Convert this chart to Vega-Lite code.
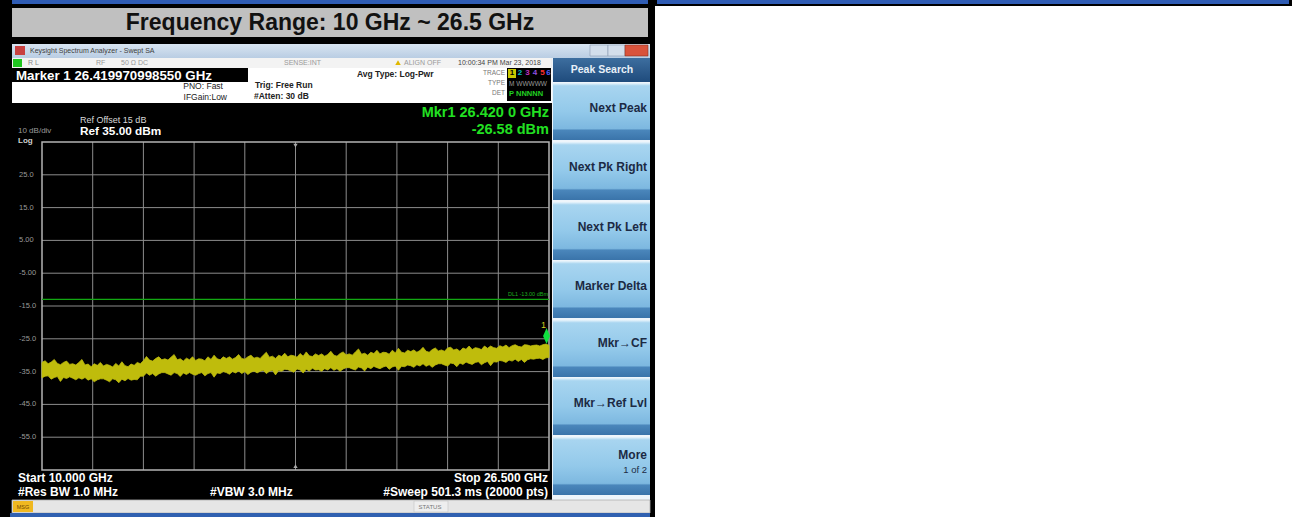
{
"$schema": "https://vega.github.io/schema/vega-lite/v6.json",
"width": 507, "height": 328,
"autosize": {"type": "none"},
"padding": {"left": 42, "top": 142, "right": 743, "bottom": 47},
"background": "white",
"config": {"view": {"stroke": null}, "font": "Liberation Sans"},
"data": {"values": [{}]},
"datasets": {
"trace": [
{"f":10.0,"hi":-32.2,"lo":-36.9},{"f":10.1,"hi":-31.7,"lo":-36.4},{"f":10.2,"hi":-32.6,"lo":-36.3},{"f":10.3,"hi":-32.1,"lo":-37.3},{"f":10.4,"hi":-31.3,"lo":-36.8},{"f":10.5,"hi":-32.5,"lo":-36.5},{"f":10.6,"hi":-32.9,"lo":-38.0},{"f":10.7,"hi":-32.2,"lo":-36.8},{"f":10.8,"hi":-31.8,"lo":-37.1},{"f":10.9,"hi":-32.8,"lo":-36.6},
{"f":11.0,"hi":-32.6,"lo":-37.0},{"f":11.1,"hi":-33.0,"lo":-37.5},{"f":11.2,"hi":-32.2,"lo":-36.9},{"f":11.3,"hi":-31.3,"lo":-37.3},{"f":11.4,"hi":-33.0,"lo":-36.8},{"f":11.5,"hi":-32.7,"lo":-37.6},{"f":11.6,"hi":-33.5,"lo":-37.2},{"f":11.7,"hi":-32.6,"lo":-38.1},{"f":11.8,"hi":-33.1,"lo":-37.5},{"f":11.9,"hi":-32.2,"lo":-37.2},
{"f":12.0,"hi":-33.3,"lo":-37.2},{"f":12.1,"hi":-32.8,"lo":-37.6},{"f":12.2,"hi":-33.1,"lo":-38.1},{"f":12.3,"hi":-33.6,"lo":-37.2},{"f":12.4,"hi":-32.5,"lo":-37.5},{"f":12.5,"hi":-33.3,"lo":-38.4},{"f":12.6,"hi":-32.0,"lo":-37.3},{"f":12.7,"hi":-33.2,"lo":-37.8},{"f":12.8,"hi":-33.5,"lo":-37.1},{"f":12.9,"hi":-32.7,"lo":-37.6},
{"f":13.0,"hi":-33.1,"lo":-37.4},{"f":13.1,"hi":-32.2,"lo":-37.5},{"f":13.2,"hi":-32.6,"lo":-36.4},{"f":13.3,"hi":-31.7,"lo":-36.4},{"f":13.4,"hi":-30.4,"lo":-35.4},{"f":13.5,"hi":-31.5,"lo":-36.1},{"f":13.6,"hi":-31.8,"lo":-35.6},{"f":13.7,"hi":-31.0,"lo":-36.4},{"f":13.8,"hi":-30.5,"lo":-35.7},{"f":13.9,"hi":-31.4,"lo":-35.3},
{"f":14.0,"hi":-31.1,"lo":-35.3},{"f":14.1,"hi":-31.5,"lo":-35.7},{"f":14.2,"hi":-30.6,"lo":-36.1},{"f":14.3,"hi":-29.8,"lo":-35.3},{"f":14.4,"hi":-31.4,"lo":-35.6},{"f":14.5,"hi":-31.1,"lo":-36.5},{"f":14.6,"hi":-31.8,"lo":-35.4},{"f":14.7,"hi":-30.9,"lo":-35.9},{"f":14.8,"hi":-31.4,"lo":-35.3},{"f":14.9,"hi":-30.5,"lo":-35.8},
{"f":15.0,"hi":-31.6,"lo":-36.1},{"f":15.1,"hi":-31.1,"lo":-35.6},{"f":15.2,"hi":-31.2,"lo":-35.3},{"f":15.3,"hi":-31.7,"lo":-36.3},{"f":15.4,"hi":-30.5,"lo":-35.6},{"f":15.5,"hi":-31.3,"lo":-35.3},{"f":15.6,"hi":-30.0,"lo":-36.7},{"f":15.7,"hi":-31.1,"lo":-35.4},{"f":15.8,"hi":-31.4,"lo":-35.6},{"f":15.9,"hi":-30.5,"lo":-35.0},
{"f":16.0,"hi":-31.0,"lo":-35.3},{"f":16.1,"hi":-30.5,"lo":-35.8},{"f":16.2,"hi":-31.2,"lo":-35.0},{"f":16.3,"hi":-30.7,"lo":-35.4},{"f":16.4,"hi":-29.8,"lo":-34.8},{"f":16.5,"hi":-31.0,"lo":-35.6},{"f":16.6,"hi":-31.2,"lo":-35.0},{"f":16.7,"hi":-30.5,"lo":-35.9},{"f":16.8,"hi":-30.0,"lo":-35.2},{"f":16.9,"hi":-30.9,"lo":-34.8},
{"f":17.0,"hi":-30.6,"lo":-35.4},{"f":17.1,"hi":-31.0,"lo":-34.9},{"f":17.2,"hi":-30.0,"lo":-34.6},{"f":17.3,"hi":-29.1,"lo":-35.6},{"f":17.4,"hi":-30.6,"lo":-34.9},{"f":17.5,"hi":-30.3,"lo":-34.6},{"f":17.6,"hi":-31.0,"lo":-36.0},{"f":17.7,"hi":-30.0,"lo":-34.7},{"f":17.8,"hi":-30.4,"lo":-34.9},{"f":17.9,"hi":-29.4,"lo":-34.3},
{"f":18.0,"hi":-30.5,"lo":-34.4},{"f":18.1,"hi":-30.0,"lo":-34.8},{"f":18.2,"hi":-30.2,"lo":-35.2},{"f":18.3,"hi":-30.6,"lo":-34.2},{"f":18.4,"hi":-29.5,"lo":-34.5},{"f":18.5,"hi":-30.3,"lo":-35.4},{"f":18.6,"hi":-29.0,"lo":-34.3},{"f":18.7,"hi":-30.2,"lo":-34.8},{"f":18.8,"hi":-30.4,"lo":-34.0},{"f":18.9,"hi":-29.6,"lo":-34.5},
{"f":19.0,"hi":-30.1,"lo":-34.4},{"f":19.1,"hi":-29.6,"lo":-34.9},{"f":19.2,"hi":-30.3,"lo":-34.1},{"f":19.3,"hi":-29.8,"lo":-34.5},{"f":19.4,"hi":-28.8,"lo":-33.8},{"f":19.5,"hi":-30.0,"lo":-34.6},{"f":19.6,"hi":-30.3,"lo":-34.1},{"f":19.7,"hi":-29.5,"lo":-34.9},{"f":19.8,"hi":-29.0,"lo":-34.2},{"f":19.9,"hi":-29.9,"lo":-33.8},
{"f":20.0,"hi":-29.6,"lo":-33.8},{"f":20.1,"hi":-30.0,"lo":-34.2},{"f":20.2,"hi":-29.0,"lo":-34.5},{"f":20.3,"hi":-28.1,"lo":-33.6},{"f":20.4,"hi":-29.7,"lo":-33.9},{"f":20.5,"hi":-29.4,"lo":-34.8},{"f":20.6,"hi":-30.0,"lo":-33.6},{"f":20.7,"hi":-29.1,"lo":-34.1},{"f":20.8,"hi":-29.5,"lo":-33.4},{"f":20.9,"hi":-28.5,"lo":-33.8},
{"f":21.0,"hi":-29.6,"lo":-34.1},{"f":21.1,"hi":-29.1,"lo":-33.6},{"f":21.2,"hi":-29.2,"lo":-33.3},{"f":21.3,"hi":-29.7,"lo":-34.3},{"f":21.4,"hi":-28.5,"lo":-33.6},{"f":21.5,"hi":-29.3,"lo":-33.3},{"f":21.6,"hi":-27.9,"lo":-34.6},{"f":21.7,"hi":-29.1,"lo":-33.4},{"f":21.8,"hi":-29.3,"lo":-33.5},{"f":21.9,"hi":-28.5,"lo":-33.0},
{"f":22.0,"hi":-28.9,"lo":-33.2},{"f":22.1,"hi":-28.4,"lo":-33.7},{"f":22.2,"hi":-29.1,"lo":-32.9},{"f":22.3,"hi":-28.6,"lo":-33.3},{"f":22.4,"hi":-27.6,"lo":-32.6},{"f":22.5,"hi":-28.8,"lo":-33.4},{"f":22.6,"hi":-29.1,"lo":-32.9},{"f":22.7,"hi":-28.3,"lo":-33.7},{"f":22.8,"hi":-27.8,"lo":-33.0},{"f":22.9,"hi":-28.7,"lo":-32.6},
{"f":23.0,"hi":-28.4,"lo":-32.6},{"f":23.1,"hi":-28.8,"lo":-33.0},{"f":23.2,"hi":-27.8,"lo":-33.3},{"f":23.3,"hi":-27.6,"lo":-32.4},{"f":23.4,"hi":-28.4,"lo":-32.6},{"f":23.5,"hi":-28.1,"lo":-33.5},{"f":23.6,"hi":-28.8,"lo":-32.4},{"f":23.7,"hi":-27.8,"lo":-32.8},{"f":23.8,"hi":-28.2,"lo":-32.1},{"f":23.9,"hi":-27.2,"lo":-32.5},
{"f":24.0,"hi":-28.3,"lo":-32.8},{"f":24.1,"hi":-27.7,"lo":-32.2},{"f":24.2,"hi":-27.9,"lo":-32.0},{"f":24.3,"hi":-28.3,"lo":-32.9},{"f":24.4,"hi":-27.2,"lo":-32.3},{"f":24.5,"hi":-27.9,"lo":-31.9},{"f":24.6,"hi":-27.2,"lo":-33.2},{"f":24.7,"hi":-27.7,"lo":-32.0},{"f":24.8,"hi":-27.9,"lo":-32.1},{"f":24.9,"hi":-27.1,"lo":-31.6},
{"f":25.0,"hi":-27.5,"lo":-31.8},{"f":25.1,"hi":-26.9,"lo":-32.2},{"f":25.2,"hi":-27.7,"lo":-31.5},{"f":25.3,"hi":-27.1,"lo":-31.8},{"f":25.4,"hi":-26.8,"lo":-31.2},{"f":25.5,"hi":-27.3,"lo":-31.9},{"f":25.6,"hi":-27.5,"lo":-31.3},{"f":25.7,"hi":-26.8,"lo":-32.2},{"f":25.8,"hi":-26.9,"lo":-31.4},{"f":25.9,"hi":-27.2,"lo":-31.1},
{"f":26.0,"hi":-27.0,"lo":-31.2},{"f":26.1,"hi":-26.9,"lo":-31.0},{"f":26.2,"hi":-27.2,"lo":-30.9},{"f":26.3,"hi":-26.8,"lo":-31.3},{"f":26.4,"hi":-26.6,"lo":-30.8},{"f":26.5,"hi":-27.0,"lo":-30.7}
],
"vgrid": [{"f":11.65},{"f":13.3},{"f":14.95},{"f":16.6},{"f":18.25},{"f":19.9},{"f":21.55},{"f":23.2},{"f":24.85}],
"hgrid": [{"d":25,"lab":"25.0"},{"d":15,"lab":"15.0"},{"d":5,"lab":"5.00"},{"d":-5,"lab":"-5.00"},{"d":-15,"lab":"-15.0"},{"d":-25,"lab":"-25.0"},{"d":-35,"lab":"-35.0"},{"d":-45,"lab":"-45.0"},{"d":-55,"lab":"-55.0"}]
},
"layer": [
{"mark": {"type": "rect", "fill": "#000000"}, "encoding": {"x": {"datum": 8.633, "type": "quantitative", "axis": null}, "x2": {"datum": 29.95}, "y": {"datum": 78.29, "type": "quantitative", "axis": null}, "y2": {"datum": -79.33}}},
{"mark": {"type": "rect", "fill": "#2f5cb4"}, "encoding": {"x": {"datum": 9.024, "type": "quantitative", "axis": null}, "x2": {"datum": 29.722}, "y": {"datum": 78.29, "type": "quantitative", "axis": null}, "y2": {"datum": 77.07}}},
{"mark": {"type": "rect", "fill": "#000000"}, "encoding": {"x": {"datum": 29.95, "type": "quantitative", "axis": null}, "x2": {"datum": 50.68}, "y": {"datum": 78.29, "type": "quantitative", "axis": null}, "y2": {"datum": 76.46}}},
{"mark": {"type": "rect", "fill": "#2f5cb4"}, "encoding": {"x": {"datum": 30.015, "type": "quantitative", "axis": null}, "x2": {"datum": 50.583}, "y": {"datum": 78.29, "type": "quantitative", "axis": null}, "y2": {"datum": 77.07}}},
{"mark": {"type": "rect", "fill": "#c0c0c0"}, "encoding": {"x": {"datum": 9.024, "type": "quantitative", "axis": null}, "x2": {"datum": 29.722}, "y": {"datum": 75.85, "type": "quantitative", "axis": null}, "y2": {"datum": 67.01}}},
{"mark": {"type": "text", "align": "center", "baseline": "middle", "font": "Liberation Sans", "fontWeight": "bold", "fontSize": 23, "color": "#111111", "text": "Frequency Range: 10 GHz ~ 26.5 GHz"}, "encoding": {"x": {"datum": 19.373, "type": "quantitative", "axis": null}, "y": {"datum": 71.28, "type": "quantitative", "axis": null}}},
{"mark": {"type": "rect", "fill": {"gradient": "linear", "x1": 0, "y1": 0, "x2": 0, "y2": 1, "stops": [{"offset": 0, "color": "#d8e4f1"}, {"offset": 1, "color": "#b9cde3"}]}}, "encoding": {"x": {"datum": 9.024, "type": "quantitative", "axis": null}, "x2": {"datum": 29.787}, "y": {"datum": 64.88, "type": "quantitative", "axis": null}, "y2": {"datum": 60.61}}},
{"mark": {"type": "rect", "fill": "#c84040"}, "encoding": {"x": {"datum": 9.121, "type": "quantitative", "axis": null}, "x2": {"datum": 9.447}, "y": {"datum": 64.27, "type": "quantitative", "axis": null}, "y2": {"datum": 61.52}}},
{"mark": {"type": "text", "align": "left", "baseline": "middle", "fontSize": 7, "color": "#404040", "text": "Keysight Spectrum Analyzer - Swept SA"}, "encoding": {"x": {"datum": 9.609, "type": "quantitative", "axis": null}, "y": {"datum": 62.74, "type": "quantitative", "axis": null}}},
{"mark": {"type": "rect", "fill": "#d3deeb", "stroke": "#8a9bb0", "strokeWidth": 0.6}, "encoding": {"x": {"datum": 27.834, "type": "quantitative", "axis": null}, "x2": {"datum": 28.42}, "y": {"datum": 64.57, "type": "quantitative", "axis": null}, "y2": {"datum": 61.22}}},
{"mark": {"type": "rect", "fill": "#d3deeb", "stroke": "#8a9bb0", "strokeWidth": 0.6}, "encoding": {"x": {"datum": 28.42, "type": "quantitative", "axis": null}, "x2": {"datum": 28.973}, "y": {"datum": 64.57, "type": "quantitative", "axis": null}, "y2": {"datum": 61.22}}},
{"mark": {"type": "rect", "fill": "#d9533c", "stroke": "#8a3020", "strokeWidth": 0.6}, "encoding": {"x": {"datum": 28.973, "type": "quantitative", "axis": null}, "x2": {"datum": 29.722}, "y": {"datum": 64.57, "type": "quantitative", "axis": null}, "y2": {"datum": 61.22}}},
{"mark": {"type": "rect", "fill": "#f3f3f3"}, "encoding": {"x": {"datum": 9.024, "type": "quantitative", "axis": null}, "x2": {"datum": 26.597}, "y": {"datum": 60.61, "type": "quantitative", "axis": null}, "y2": {"datum": 57.56}}},
{"mark": {"type": "rect", "fill": "#1fc51f"}, "encoding": {"x": {"datum": 9.056, "type": "quantitative", "axis": null}, "x2": {"datum": 9.349}, "y": {"datum": 60.3, "type": "quantitative", "axis": null}, "y2": {"datum": 57.87}}},
{"mark": {"type": "text", "align": "left", "baseline": "middle", "fontSize": 7, "color": "#8a8a8a", "text": "R L"}, "encoding": {"x": {"datum": 9.544, "type": "quantitative", "axis": null}, "y": {"datum": 59.09, "type": "quantitative", "axis": null}}},
{"mark": {"type": "text", "align": "left", "baseline": "middle", "fontSize": 7, "color": "#9a9a9a", "text": "RF"}, "encoding": {"x": {"datum": 11.757, "type": "quantitative", "axis": null}, "y": {"datum": 59.09, "type": "quantitative", "axis": null}}},
{"mark": {"type": "text", "align": "left", "baseline": "middle", "fontSize": 7, "color": "#9a9a9a", "text": "50 Ω    DC"}, "encoding": {"x": {"datum": 12.571, "type": "quantitative", "axis": null}, "y": {"datum": 59.09, "type": "quantitative", "axis": null}}},
{"mark": {"type": "text", "align": "left", "baseline": "middle", "fontSize": 7, "color": "#9a9a9a", "text": "SENSE:INT"}, "encoding": {"x": {"datum": 17.876, "type": "quantitative", "axis": null}, "y": {"datum": 59.09, "type": "quantitative", "axis": null}}},
{"mark": {"type": "point", "shape": "triangle-up", "filled": true, "size": 30, "color": "#e0b800", "opacity": 1}, "encoding": {"x": {"datum": 21.586, "type": "quantitative", "axis": null}, "y": {"datum": 59.2, "type": "quantitative", "axis": null}}},
{"mark": {"type": "text", "align": "left", "baseline": "middle", "fontSize": 7, "color": "#9a9a9a", "text": "ALIGN OFF"}, "encoding": {"x": {"datum": 21.781, "type": "quantitative", "axis": null}, "y": {"datum": 59.09, "type": "quantitative", "axis": null}}},
{"mark": {"type": "text", "align": "left", "baseline": "middle", "fontSize": 7, "color": "#444444", "text": "10:00:34 PM Mar 23, 2018"}, "encoding": {"x": {"datum": 23.539, "type": "quantitative", "axis": null}, "y": {"datum": 59.09, "type": "quantitative", "axis": null}}},
{"mark": {"type": "rect", "fill": "#ffffff"}, "encoding": {"x": {"datum": 9.024, "type": "quantitative", "axis": null}, "x2": {"datum": 26.597}, "y": {"datum": 57.56, "type": "quantitative", "axis": null}, "y2": {"datum": 46.89}}},
{"mark": {"type": "rect", "fill": "#000000"}, "encoding": {"x": {"datum": 9.024, "type": "quantitative", "axis": null}, "x2": {"datum": 16.704}, "y": {"datum": 57.56, "type": "quantitative", "axis": null}, "y2": {"datum": 53.29}}},
{"mark": {"type": "text", "align": "left", "baseline": "middle", "fontSize": 13.3, "fontWeight": "bold", "color": "#ffffff", "text": "Marker 1 26.419970998550 GHz"}, "encoding": {"x": {"datum": 9.154, "type": "quantitative", "axis": null}, "y": {"datum": 55.27, "type": "quantitative", "axis": null}}},
{"mark": {"type": "text", "align": "right", "baseline": "middle", "fontSize": 8.5, "color": "#222222", "text": "PNO: Fast"}, "encoding": {"x": {"datum": 15.89, "type": "quantitative", "axis": null}, "y": {"datum": 52.07, "type": "quantitative", "axis": null}}},
{"mark": {"type": "text", "align": "right", "baseline": "middle", "fontSize": 8.5, "color": "#222222", "text": "IFGain:Low"}, "encoding": {"x": {"datum": 16.021, "type": "quantitative", "axis": null}, "y": {"datum": 48.72, "type": "quantitative", "axis": null}}},
{"mark": {"type": "text", "align": "left", "baseline": "middle", "fontSize": 8.5, "fontWeight": "bold", "color": "#222222", "text": "Trig: Free Run"}, "encoding": {"x": {"datum": 16.932, "type": "quantitative", "axis": null}, "y": {"datum": 52.38, "type": "quantitative", "axis": null}}},
{"mark": {"type": "text", "align": "left", "baseline": "middle", "fontSize": 8.5, "fontWeight": "bold", "color": "#222222", "text": "#Atten: 30 dB"}, "encoding": {"x": {"datum": 16.899, "type": "quantitative", "axis": null}, "y": {"datum": 49.02, "type": "quantitative", "axis": null}}},
{"mark": {"type": "text", "align": "left", "baseline": "middle", "fontSize": 8.5, "fontWeight": "bold", "color": "#222222", "text": "Avg Type: Log-Pwr"}, "encoding": {"x": {"datum": 20.251, "type": "quantitative", "axis": null}, "y": {"datum": 55.73, "type": "quantitative", "axis": null}}},
{"mark": {"type": "text", "align": "right", "baseline": "middle", "fontSize": 6.5, "color": "#777777", "text": "TRACE"}, "encoding": {"x": {"datum": 25.068, "type": "quantitative", "axis": null}, "y": {"datum": 56.04, "type": "quantitative", "axis": null}}},
{"mark": {"type": "text", "align": "right", "baseline": "middle", "fontSize": 6.5, "color": "#777777", "text": "TYPE"}, "encoding": {"x": {"datum": 25.068, "type": "quantitative", "axis": null}, "y": {"datum": 52.99, "type": "quantitative", "axis": null}}},
{"mark": {"type": "text", "align": "right", "baseline": "middle", "fontSize": 6.5, "color": "#777777", "text": "DET"}, "encoding": {"x": {"datum": 25.068, "type": "quantitative", "axis": null}, "y": {"datum": 49.94, "type": "quantitative", "axis": null}}},
{"mark": {"type": "rect", "fill": "#000000"}, "encoding": {"x": {"datum": 25.133, "type": "quantitative", "axis": null}, "x2": {"datum": 26.565}, "y": {"datum": 57.56, "type": "quantitative", "axis": null}, "y2": {"datum": 47.5}}},
{"mark": {"type": "rect", "fill": "#c8c800"}, "encoding": {"x": {"datum": 25.166, "type": "quantitative", "axis": null}, "x2": {"datum": 25.426}, "y": {"datum": 57.26, "type": "quantitative", "axis": null}, "y2": {"datum": 54.51}}},
{"mark": {"type": "text", "align": "center", "baseline": "middle", "fontSize": 8, "fontWeight": "bold", "color": "#000000", "text": "1"}, "encoding": {"x": {"datum": 25.296, "type": "quantitative", "axis": null}, "y": {"datum": 55.9, "type": "quantitative", "axis": null}}},
{"mark": {"type": "text", "align": "center", "baseline": "middle", "fontSize": 8, "fontWeight": "bold", "color": "#00c0c0", "text": "2"}, "encoding": {"x": {"datum": 25.556, "type": "quantitative", "axis": null}, "y": {"datum": 55.9, "type": "quantitative", "axis": null}}},
{"mark": {"type": "text", "align": "center", "baseline": "middle", "fontSize": 8, "fontWeight": "bold", "color": "#c030c0", "text": "3"}, "encoding": {"x": {"datum": 25.8, "type": "quantitative", "axis": null}, "y": {"datum": 55.9, "type": "quantitative", "axis": null}}},
{"mark": {"type": "text", "align": "center", "baseline": "middle", "fontSize": 8, "fontWeight": "bold", "color": "#9050e0", "text": "4"}, "encoding": {"x": {"datum": 26.044, "type": "quantitative", "axis": null}, "y": {"datum": 55.9, "type": "quantitative", "axis": null}}},
{"mark": {"type": "text", "align": "center", "baseline": "middle", "fontSize": 8, "fontWeight": "bold", "color": "#ff3030", "text": "5"}, "encoding": {"x": {"datum": 26.288, "type": "quantitative", "axis": null}, "y": {"datum": 55.9, "type": "quantitative", "axis": null}}},
{"mark": {"type": "text", "align": "center", "baseline": "middle", "fontSize": 8, "fontWeight": "bold", "color": "#5060ff", "text": "6"}, "encoding": {"x": {"datum": 26.484, "type": "quantitative", "axis": null}, "y": {"datum": 55.9, "type": "quantitative", "axis": null}}},
{"mark": {"type": "text", "align": "left", "baseline": "middle", "fontSize": 6.5, "color": "#999999", "text": "M WWWWW"}, "encoding": {"x": {"datum": 25.2, "type": "quantitative", "axis": null}, "y": {"datum": 52.68, "type": "quantitative", "axis": null}}},
{"mark": {"type": "text", "align": "left", "baseline": "middle", "fontSize": 7.5, "fontWeight": "bold", "color": "#20d020", "text": "P NNNNN"}, "encoding": {"x": {"datum": 25.2, "type": "quantitative", "axis": null}, "y": {"datum": 49.63, "type": "quantitative", "axis": null}}},
{"mark": {"type": "rect", "fill": "#eef5fb"}, "encoding": {"x": {"datum": 26.597, "type": "quantitative", "axis": null}, "x2": {"datum": 29.787}, "y": {"datum": 60.61, "type": "quantitative", "axis": null}, "y2": {"datum": -74.15}}},
{"mark": {"type": "rect", "fill": {"gradient": "linear", "x1": 0, "y1": 0, "x2": 0, "y2": 1, "stops": [{"offset": 0, "color": "#3d6e9f"}, {"offset": 1, "color": "#1f4b7c"}]}}, "encoding": {"x": {"datum": 26.63, "type": "quantitative", "axis": null}, "x2": {"datum": 29.787}, "y": {"datum": 60.61, "type": "quantitative", "axis": null}, "y2": {"datum": 53.29}}},
{"mark": {"type": "text", "align": "center", "baseline": "middle", "fontSize": 10.5, "fontWeight": "bold", "color": "#e8f0f8", "text": "Peak Search"}, "encoding": {"x": {"datum": 28.225, "type": "quantitative", "axis": null}, "y": {"datum": 56.95, "type": "quantitative", "axis": null}}},
{"mark": {"type": "rect", "fill": {"gradient": "linear", "x1": 0, "y1": 0, "x2": 0, "y2": 1, "stops": [{"offset": 0, "color": "#eaf5fc"}, {"offset": 0.05, "color": "#a8d5f0"}, {"offset": 0.5, "color": "#93c9ea"}, {"offset": 0.8, "color": "#7db8e0"}, {"offset": 0.83, "color": "#4a86bb"}, {"offset": 1, "color": "#3a74aa"}]}}, "encoding": {"x": {"datum": 26.63, "type": "quantitative", "axis": null}, "x2": {"datum": 29.787}, "y": {"datum": 52.99, "type": "quantitative", "axis": null}, "y2": {"datum": 35.61}}},
{"mark": {"type": "rect", "fill": {"gradient": "linear", "x1": 0, "y1": 0, "x2": 0, "y2": 1, "stops": [{"offset": 0, "color": "#eaf5fc"}, {"offset": 0.05, "color": "#a8d5f0"}, {"offset": 0.5, "color": "#93c9ea"}, {"offset": 0.8, "color": "#7db8e0"}, {"offset": 0.83, "color": "#4a86bb"}, {"offset": 1, "color": "#3a74aa"}]}}, "encoding": {"x": {"datum": 26.63, "type": "quantitative", "axis": null}, "x2": {"datum": 29.787}, "y": {"datum": 35.0, "type": "quantitative", "axis": null}, "y2": {"datum": 17.32}}},
{"mark": {"type": "rect", "fill": {"gradient": "linear", "x1": 0, "y1": 0, "x2": 0, "y2": 1, "stops": [{"offset": 0, "color": "#eaf5fc"}, {"offset": 0.05, "color": "#a8d5f0"}, {"offset": 0.5, "color": "#93c9ea"}, {"offset": 0.8, "color": "#7db8e0"}, {"offset": 0.83, "color": "#4a86bb"}, {"offset": 1, "color": "#3a74aa"}]}}, "encoding": {"x": {"datum": 26.63, "type": "quantitative", "axis": null}, "x2": {"datum": 29.787}, "y": {"datum": 16.71, "type": "quantitative", "axis": null}, "y2": {"datum": -0.98}}},
{"mark": {"type": "rect", "fill": {"gradient": "linear", "x1": 0, "y1": 0, "x2": 0, "y2": 1, "stops": [{"offset": 0, "color": "#eaf5fc"}, {"offset": 0.05, "color": "#a8d5f0"}, {"offset": 0.5, "color": "#93c9ea"}, {"offset": 0.8, "color": "#7db8e0"}, {"offset": 0.83, "color": "#4a86bb"}, {"offset": 1, "color": "#3a74aa"}]}}, "encoding": {"x": {"datum": 26.63, "type": "quantitative", "axis": null}, "x2": {"datum": 29.787}, "y": {"datum": -1.28, "type": "quantitative", "axis": null}, "y2": {"datum": -18.66}}},
{"mark": {"type": "rect", "fill": {"gradient": "linear", "x1": 0, "y1": 0, "x2": 0, "y2": 1, "stops": [{"offset": 0, "color": "#eaf5fc"}, {"offset": 0.05, "color": "#a8d5f0"}, {"offset": 0.5, "color": "#93c9ea"}, {"offset": 0.8, "color": "#7db8e0"}, {"offset": 0.83, "color": "#4a86bb"}, {"offset": 1, "color": "#3a74aa"}]}}, "encoding": {"x": {"datum": 26.63, "type": "quantitative", "axis": null}, "x2": {"datum": 29.787}, "y": {"datum": -19.27, "type": "quantitative", "axis": null}, "y2": {"datum": -36.65}}},
{"mark": {"type": "rect", "fill": {"gradient": "linear", "x1": 0, "y1": 0, "x2": 0, "y2": 1, "stops": [{"offset": 0, "color": "#eaf5fc"}, {"offset": 0.05, "color": "#a8d5f0"}, {"offset": 0.5, "color": "#93c9ea"}, {"offset": 0.8, "color": "#7db8e0"}, {"offset": 0.83, "color": "#4a86bb"}, {"offset": 1, "color": "#3a74aa"}]}}, "encoding": {"x": {"datum": 26.63, "type": "quantitative", "axis": null}, "x2": {"datum": 29.787}, "y": {"datum": -36.95, "type": "quantitative", "axis": null}, "y2": {"datum": -54.33}}},
{"mark": {"type": "rect", "fill": {"gradient": "linear", "x1": 0, "y1": 0, "x2": 0, "y2": 1, "stops": [{"offset": 0, "color": "#eaf5fc"}, {"offset": 0.05, "color": "#a8d5f0"}, {"offset": 0.5, "color": "#93c9ea"}, {"offset": 0.8, "color": "#7db8e0"}, {"offset": 0.83, "color": "#4a86bb"}, {"offset": 1, "color": "#3a74aa"}]}}, "encoding": {"x": {"datum": 26.63, "type": "quantitative", "axis": null}, "x2": {"datum": 29.787}, "y": {"datum": -54.94, "type": "quantitative", "axis": null}, "y2": {"datum": -72.62}}},
{"mark": {"type": "text", "align": "right", "baseline": "middle", "fontSize": 12, "fontWeight": "bold", "color": "#1c2a44", "text": "Next Peak"}, "encoding": {"x": {"datum": 29.689, "type": "quantitative", "axis": null}, "y": {"datum": 45.37, "type": "quantitative", "axis": null}}},
{"mark": {"type": "text", "align": "right", "baseline": "middle", "fontSize": 12, "fontWeight": "bold", "color": "#1c2a44", "text": "Next Pk Right"}, "encoding": {"x": {"datum": 29.689, "type": "quantitative", "axis": null}, "y": {"datum": 27.38, "type": "quantitative", "axis": null}}},
{"mark": {"type": "text", "align": "right", "baseline": "middle", "fontSize": 12, "fontWeight": "bold", "color": "#1c2a44", "text": "Next Pk Left"}, "encoding": {"x": {"datum": 29.689, "type": "quantitative", "axis": null}, "y": {"datum": 9.09, "type": "quantitative", "axis": null}}},
{"mark": {"type": "text", "align": "right", "baseline": "middle", "fontSize": 12, "fontWeight": "bold", "color": "#1c2a44", "text": "Marker Delta"}, "encoding": {"x": {"datum": 29.689, "type": "quantitative", "axis": null}, "y": {"datum": -8.9, "type": "quantitative", "axis": null}}},
{"mark": {"type": "text", "align": "right", "baseline": "middle", "fontSize": 12, "fontWeight": "bold", "color": "#1c2a44", "text": "Mkr→CF"}, "encoding": {"x": {"datum": 29.689, "type": "quantitative", "axis": null}, "y": {"datum": -26.28, "type": "quantitative", "axis": null}}},
{"mark": {"type": "text", "align": "right", "baseline": "middle", "fontSize": 12, "fontWeight": "bold", "color": "#1c2a44", "text": "Mkr→Ref Lvl"}, "encoding": {"x": {"datum": 29.689, "type": "quantitative", "axis": null}, "y": {"datum": -44.57, "type": "quantitative", "axis": null}}},
{"mark": {"type": "text", "align": "right", "baseline": "middle", "fontSize": 12, "fontWeight": "bold", "color": "#1c2a44", "text": "More"}, "encoding": {"x": {"datum": 29.689, "type": "quantitative", "axis": null}, "y": {"datum": -60.43, "type": "quantitative", "axis": null}}},
{"mark": {"type": "text", "align": "right", "baseline": "middle", "fontSize": 9.5, "color": "#1c2a44", "text": "1 of 2"}, "encoding": {"x": {"datum": 29.689, "type": "quantitative", "axis": null}, "y": {"datum": -65.0, "type": "quantitative", "axis": null}}},
{"data": {"name": "vgrid"}, "mark": {"type": "rule", "color": "#8c8c8c", "strokeWidth": 1}, "encoding": {"x": {"field": "f", "type": "quantitative", "axis": null}}},
{"data": {"name": "hgrid"}, "mark": {"type": "rule", "color": "#8c8c8c", "strokeWidth": 1}, "encoding": {"y": {"field": "d", "type": "quantitative", "axis": null}}},
{"data": {"name": "hgrid"}, "mark": {"type": "text", "align": "left", "baseline": "middle", "fontSize": 7.5, "color": "#9a9a9a"}, "encoding": {"x": {"datum": 9.251, "type": "quantitative", "axis": null}, "y": {"field": "d", "type": "quantitative", "axis": null}, "text": {"field": "lab"}}},
{"mark": {"type": "rect", "filled": false, "fill": null, "stroke": "#b4b4b4", "strokeWidth": 1.5}, "encoding": {"x": {"datum": 10, "type": "quantitative", "axis": null}, "x2": {"datum": 26.5}, "y": {"datum": 35, "type": "quantitative", "axis": null}, "y2": {"datum": -65}}},
{"mark": {"type": "rule", "color": "#12a812", "strokeWidth": 1.2}, "encoding": {"y": {"datum": -13, "type": "quantitative", "axis": null}}},
{"mark": {"type": "text", "align": "right", "baseline": "bottom", "fontSize": 5.5, "color": "#1fb01f", "dy": -2, "text": "DL1 -13.00 dBm"}, "encoding": {"x": {"datum": 26.467, "type": "quantitative", "axis": null}, "y": {"datum": -13, "type": "quantitative", "axis": null}}},
{"data": {"name": "trace"}, "mark": {"type": "area", "color": "#bfbc0c", "stroke": "#bfbc0c", "strokeWidth": 0.8, "opacity": 1}, "encoding": {"x": {"field": "f", "type": "quantitative", "scale": {"domain": [10, 26.5], "nice": false, "zero": false}, "axis": null}, "y": {"field": "hi", "type": "quantitative", "scale": {"domain": [-65, 35], "nice": false, "zero": false}, "axis": null}, "y2": {"field": "lo"}}},
{"mark": {"type": "point", "shape": "M0,0L0.7,-1.6L0,-3.2L-0.7,-1.6Z", "filled": true, "size": 100, "color": "#10e040", "opacity": 1}, "encoding": {"x": {"datum": 26.42, "type": "quantitative", "axis": null}, "y": {"datum": -26.58, "type": "quantitative", "axis": null}}},
{"mark": {"type": "text", "align": "center", "baseline": "middle", "fontSize": 9, "color": "#d0d020", "dx": -3, "dy": -19, "text": "1"}, "encoding": {"x": {"datum": 26.42, "type": "quantitative", "axis": null}, "y": {"datum": -26.58, "type": "quantitative", "axis": null}}},
{"mark": {"type": "point", "shape": "triangle-down", "filled": true, "size": 18, "color": "#a8a8a8", "opacity": 1}, "encoding": {"x": {"datum": 18.25, "type": "quantitative", "axis": null}, "y": {"datum": 33.9, "type": "quantitative", "axis": null}}},
{"mark": {"type": "point", "shape": "triangle-up", "filled": true, "size": 18, "color": "#a8a8a8", "opacity": 1}, "encoding": {"x": {"datum": 18.25, "type": "quantitative", "axis": null}, "y": {"datum": -63.8, "type": "quantitative", "axis": null}}},
{"mark": {"type": "text", "align": "left", "baseline": "middle", "fontSize": 9, "color": "#d8d8d8", "text": "Ref Offset 15 dB"}, "encoding": {"x": {"datum": 11.237, "type": "quantitative", "axis": null}, "y": {"datum": 41.71, "type": "quantitative", "axis": null}}},
{"mark": {"type": "text", "align": "left", "baseline": "middle", "fontSize": 11.8, "fontWeight": "bold", "color": "#ffffff", "text": "Ref 35.00 dBm"}, "encoding": {"x": {"datum": 11.237, "type": "quantitative", "axis": null}, "y": {"datum": 38.35, "type": "quantitative", "axis": null}}},
{"mark": {"type": "text", "align": "left", "baseline": "middle", "fontSize": 8, "color": "#9a9a9a", "text": "10 dB/div"}, "encoding": {"x": {"datum": 9.219, "type": "quantitative", "axis": null}, "y": {"datum": 38.3, "type": "quantitative", "axis": null}}},
{"mark": {"type": "text", "align": "left", "baseline": "middle", "fontSize": 8, "fontWeight": "bold", "color": "#d0d0d0", "text": "Log"}, "encoding": {"x": {"datum": 9.219, "type": "quantitative", "axis": null}, "y": {"datum": 35.45, "type": "quantitative", "axis": null}}},
{"mark": {"type": "text", "align": "right", "baseline": "middle", "fontSize": 14.5, "fontWeight": "bold", "color": "#22e022", "text": "Mkr1 26.420 0 GHz"}, "encoding": {"x": {"datum": 26.5, "type": "quantitative", "axis": null}, "y": {"datum": 43.84, "type": "quantitative", "axis": null}}},
{"mark": {"type": "text", "align": "right", "baseline": "middle", "fontSize": 14.5, "fontWeight": "bold", "color": "#22e022", "text": "-26.58 dBm"}, "encoding": {"x": {"datum": 26.5, "type": "quantitative", "axis": null}, "y": {"datum": 38.66, "type": "quantitative", "axis": null}}},
{"mark": {"type": "text", "align": "left", "baseline": "middle", "fontSize": 12, "fontWeight": "bold", "color": "#ffffff", "text": "Start 10.000 GHz"}, "encoding": {"x": {"datum": 9.219, "type": "quantitative", "axis": null}, "y": {"datum": -67.44, "type": "quantitative", "axis": null}}},
{"mark": {"type": "text", "align": "left", "baseline": "middle", "fontSize": 12, "fontWeight": "bold", "color": "#ffffff", "text": "#Res BW 1.0 MHz"}, "encoding": {"x": {"datum": 9.219, "type": "quantitative", "axis": null}, "y": {"datum": -71.71, "type": "quantitative", "axis": null}}},
{"mark": {"type": "text", "align": "left", "baseline": "middle", "fontSize": 12, "fontWeight": "bold", "color": "#ffffff", "text": "#VBW 3.0 MHz"}, "encoding": {"x": {"datum": 15.467, "type": "quantitative", "axis": null}, "y": {"datum": -71.71, "type": "quantitative", "axis": null}}},
{"mark": {"type": "text", "align": "right", "baseline": "middle", "fontSize": 12, "fontWeight": "bold", "color": "#ffffff", "text": "Stop 26.500 GHz"}, "encoding": {"x": {"datum": 26.467, "type": "quantitative", "axis": null}, "y": {"datum": -67.44, "type": "quantitative", "axis": null}}},
{"mark": {"type": "text", "align": "right", "baseline": "middle", "fontSize": 12, "fontWeight": "bold", "color": "#ffffff", "text": "#Sweep  501.3 ms (20000 pts)"}, "encoding": {"x": {"datum": 26.467, "type": "quantitative", "axis": null}, "y": {"datum": -71.71, "type": "quantitative", "axis": null}}},
{"mark": {"type": "rect", "fill": "#e6e6e6", "stroke": "#b0b0b0", "strokeWidth": 0.8}, "encoding": {"x": {"datum": 9.024, "type": "quantitative", "axis": null}, "x2": {"datum": 29.787}, "y": {"datum": -74.15, "type": "quantitative", "axis": null}, "y2": {"datum": -78.11}}},
{"mark": {"type": "rect", "fill": "#f0b820"}, "encoding": {"x": {"datum": 9.056, "type": "quantitative", "axis": null}, "x2": {"datum": 9.707}, "y": {"datum": -74.45, "type": "quantitative", "axis": null}, "y2": {"datum": -77.8}}},
{"mark": {"type": "text", "align": "center", "baseline": "middle", "fontSize": 5.5, "color": "#704800", "text": "MSG"}, "encoding": {"x": {"datum": 9.38, "type": "quantitative", "axis": null}, "y": {"datum": -76.13, "type": "quantitative", "axis": null}}},
{"mark": {"type": "rect", "fill": "#eeeeee", "stroke": "#c4c4c4", "strokeWidth": 0.6}, "encoding": {"x": {"datum": 22.107, "type": "quantitative", "axis": null}, "x2": {"datum": 23.213}, "y": {"datum": -74.45, "type": "quantitative", "axis": null}, "y2": {"datum": -77.8}}},
{"mark": {"type": "text", "align": "center", "baseline": "middle", "fontSize": 6, "color": "#777777", "text": "STATUS"}, "encoding": {"x": {"datum": 22.627, "type": "quantitative", "axis": null}, "y": {"datum": -76.13, "type": "quantitative", "axis": null}}},
{"mark": {"type": "rect", "fill": "#3060b0"}, "encoding": {"x": {"datum": 8.959, "type": "quantitative", "axis": null}, "x2": {"datum": 29.787}, "y": {"datum": -78.11, "type": "quantitative", "axis": null}, "y2": {"datum": -79.33}}}
]
}
